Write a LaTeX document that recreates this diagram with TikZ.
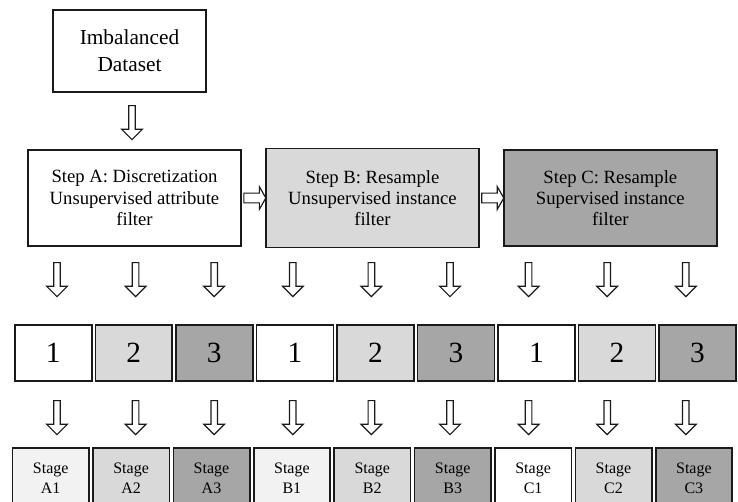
\documentclass[tikz,border=0pt]{standalone}
\usepackage{fontspec}
\setmainfont{Liberation Serif}
\usetikzlibrary{positioning, shapes.arrows, calc}

\definecolor{lgray}{HTML}{D9D9D9}
\definecolor{dgray}{HTML}{A6A6A6}
\definecolor{pgray}{HTML}{F2F2F2}
\definecolor{edge}{HTML}{1A1A1A}

\begin{document}
\begin{tikzpicture}[
    x=0.75pt, y=-0.75pt,
    box/.style={draw=edge, line width=1.2pt, align=center, inner sep=1pt},
    stepbox/.style={box, minimum width=160pt, minimum height=72.3pt, font=\fontsize{14}{16}\selectfont},
    numbox/.style={box, minimum width=57.7pt, minimum height=42.3pt, font=\fontsize{22}{26}\selectfont},
    stagebox/.style={box, minimum width=57.3pt, minimum height=45.3pt, font=\fontsize{12}{15}\selectfont},
    darr/.style={single arrow, draw=edge, fill=white, line width=0.9pt, rotate=-90, inner sep=2pt,
        single arrow head extend=5.3pt, single arrow tip angle=90, minimum height=25.5pt},
    rarr/.style={single arrow, draw=edge, fill=white, line width=0.9pt, inner sep=3.2pt,
        single arrow head extend=4.8pt, single arrow tip angle=120, minimum height=16.5pt},
]
\useasboundingbox (0,0) rectangle (738,502);

% ---- Ulazni skup ----
\node[box, minimum width=115pt, minimum height=61.8pt, font=\fontsize{16}{20}\selectfont] (data) at (129.5,51) {Imbalanced\\Dataset};

% ---- Koraci ----
\node[stepbox, fill=white] (stepA) at (134.5,198) {Step A: Discretization\\Unsupervised attribute\\filter};
\node[stepbox, fill=lgray, minimum height=74.5pt, right=17.25pt of stepA] (stepB) {Step B: Resample\\Unsupervised instance\\filter};
\node[stepbox, fill=dgray, right=17.25pt of stepB] (stepC) {Step C: Resample\\Supervised instance\\filter};

\node[darr] (a0) at ($(data.south)!0.5!(stepA.north)$) {};
\node[rarr] (ab) at ($(stepA.east)!0.5!(stepB.west)$) {};
\node[rarr] (bc) at ($(stepB.east)!0.5!(stepC.west)$) {};

% ---- Podela ----
\node[numbox, fill=white] (n1) at (53.25,353) {1};
\node[numbox, fill=lgray, right=1.5pt of n1] (n2) {2};
\node[numbox, fill=dgray, right=1.5pt of n2] (n3) {3};
\node[numbox, fill=white, right=1.5pt of n3] (n4) {1};
\node[numbox, fill=lgray, right=1.5pt of n4] (n5) {2};
\node[numbox, fill=dgray, right=1.5pt of n5] (n6) {3};
\node[numbox, fill=white, right=1.5pt of n6] (n7) {1};
\node[numbox, fill=lgray, right=1.5pt of n7] (n8) {2};
\node[numbox, fill=dgray, right=1.5pt of n8] (n9) {3};

% ---- Faze ----
\node[stagebox, fill=pgray] (s1) at (50.7,478) {Stage\\A1};
\node[stagebox, fill=lgray, right=1.8pt of s1] (s2) {Stage\\A2};
\node[stagebox, fill=dgray, right=1.8pt of s2] (s3) {Stage\\A3};
\node[stagebox, fill=pgray, right=1.8pt of s3] (s4) {Stage\\B1};
\node[stagebox, fill=lgray, right=1.8pt of s4] (s5) {Stage\\B2};
\node[stagebox, fill=dgray, right=1.8pt of s5] (s6) {Stage\\B3};
\node[stagebox, fill=white, right=1.8pt of s6] (s7) {Stage\\C1};
\node[stagebox, fill=lgray, right=1.8pt of s7] (s8) {Stage\\C2};
\node[stagebox, fill=dgray, right=1.8pt of s8] (s9) {Stage\\C3};

% ---- Strelice ----
\foreach \i in {0,...,8} {
  \node[darr] (u\i) at (57+78.6*\i, 278) {};
  \node[darr] (v\i) at (57+78.6*\i, 416) {};
}

\end{tikzpicture}
\end{document}
